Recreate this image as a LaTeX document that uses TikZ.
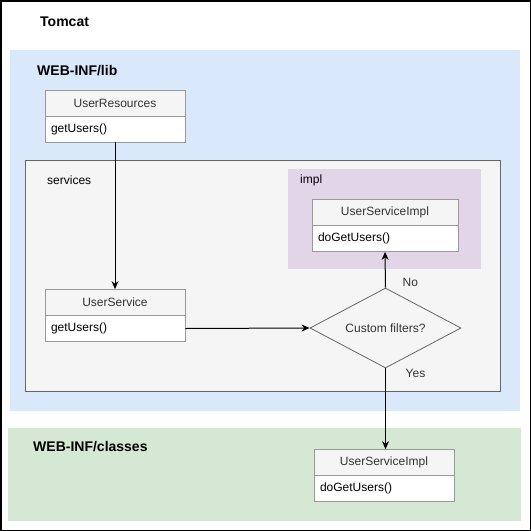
\documentclass[tikz,border=0pt]{standalone}
\usepackage{fontspec}
\setmainfont{Liberation Sans}
\usetikzlibrary{shapes.geometric,arrows.meta}
\definecolor{libblue}{HTML}{DAE8FC}
\definecolor{clsgreen}{HTML}{D5E8D4}
\definecolor{implpurple}{HTML}{E1D5E7}
\definecolor{pkggray}{HTML}{F5F5F5}
\definecolor{pkgborder}{HTML}{666666}
\definecolor{boxborder}{HTML}{999999}
\definecolor{headtext}{HTML}{333333}
\tikzset{
  title/.style={font=\fontsize{14}{16}\selectfont\bfseries,anchor=west,inner sep=0},
  lbl/.style={font=\fontsize{12}{14}\selectfont,anchor=west,inner sep=0},
  edgelbl/.style={font=\fontsize{12}{14}\selectfont,anchor=west,inner sep=0,text=headtext},
  clshead/.style={draw=boxborder,fill=pkggray,line width=0.8pt,minimum width=140pt,minimum height=26pt,inner sep=0,font=\fontsize{12}{14}\selectfont,text=headtext},
  clsbody/.style={draw=boxborder,fill=white,line width=0.8pt,minimum width=140pt,minimum height=26pt,inner sep=0,inner xsep=6pt,font=\fontsize{12}{14}\selectfont,text width=128pt,align=left},
  decision/.style={diamond,draw=pkgborder,fill=pkggray,line width=0.8pt,minimum width=151pt,minimum height=80pt,inner sep=0,aspect=1.9,font=\fontsize{12}{14}\selectfont,text=headtext},
  conn/.style={-{Stealth[length=8pt,width=7pt]},line width=1pt,black},
}
\begin{document}
\begin{tikzpicture}[x=1pt,y=-1pt]
\useasboundingbox (0,0) rectangle (531,531);
% Tomcat frame
\draw[line width=1.5pt] (0.75,0.75) rectangle (530.25,530.25);
\node[title] (tomcat) at (40,22) {Tomcat};
% WEB-INF/lib
\fill[libblue] (10,50) rectangle (520,411);
\node[title] (lib) at (37,71) {WEB-INF/lib};
% WEB-INF/classes
\fill[clsgreen] (8,428) rectangle (521,521);
\node[title] (classes) at (33,447) {WEB-INF/classes};
% services package
\draw[pkgborder,fill=pkggray,line width=0.8pt] (25,160) rectangle (500,391);
\node[lbl] (services) at (47,180) {services};
% impl package
\fill[implpurple] (288,169) rectangle (481,269);
\node[lbl] (impl) at (300,180) {impl};
% UserResources
\node[clshead] (urH) at (115,103) {UserResources};
\node[clsbody] (urB) at (115,129) {getUsers()};
% UserService
\node[clshead] (usH) at (115,302.5) {UserService};
\node[clsbody] (usB) at (115,328.5) {getUsers()};
% impl UserServiceImpl
\node[clshead,minimum width=146pt] (iH) at (385,212.5) {UserServiceImpl};
\node[clsbody,minimum width=146pt,text width=134pt] (iB) at (385,238.5) {doGetUsers()};
% classes UserServiceImpl
\node[clshead] (cH) at (384,462.5) {UserServiceImpl};
\node[clsbody] (cB) at (384,488.5) {doGetUsers()};
% decision
\node[decision] (dec) at (385.5,328) {Custom filters?};
% edge labels
\node[edgelbl] (no) at ([xshift=17pt,yshift=5pt]dec.north) {No};
\node[edgelbl] (yes) at ([xshift=20pt,yshift=-5pt]dec.south) {Yes};
% connectors
\draw[conn] (urB.south) -- (usH.north);
\draw[conn] (usB.east) -- (dec.west);
\draw[conn] (dec.north) -- (iB.south);
\draw[conn] (dec.south) -- (cH.north -| dec.south);
\end{tikzpicture}
\end{document}
